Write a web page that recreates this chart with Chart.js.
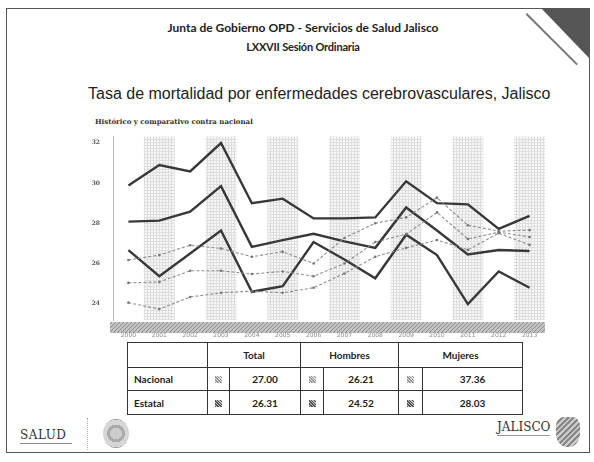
<!DOCTYPE html>
<html lang="es">
<head>
<meta charset="UTF-8">
<title>Tasa de mortalidad por enfermedades cerebrovasculares, Jalisco</title>
<script src="https://cdn.jsdelivr.net/npm/chart.js"></script>
<style>
    body { margin: 0; background: #fff; }
    .page { position: relative; width: 594px; height: 462px; overflow: hidden; background: #fff; font-family: Lato, "Open Sans", sans-serif; color: #222; }
    .marco { position: absolute; left: 6px; top: 8px; width: 582px; height: 443px; border: 1.5px solid #555; }
    .encabezado { position: absolute; left: 0; width: 606px; text-align: center; font-weight: bold; color: #222; }
    .titulo { position: absolute; left: 88px; top: 85px; font-family: "Liberation Sans", Arial, sans-serif; font-size: 16px; color: #222; }
    .subtitulo { position: absolute; left: 95px; top: 117px; font-family: "DejaVu Serif", serif; font-weight: bold; font-size: 7px; color: #333; }
    #grafica { position: absolute; left: 90px; top: 128px; }
    table { position: absolute; left: 127px; top: 342px; border-collapse: collapse; font-weight: bold; font-size: 10px; color: #222; }
    td { border: 1.3px solid #333; padding: 0; text-align: center; }
    td.etq { text-align: left; padding-left: 6px; }
    .ico { display: inline-block; width: 7px; height: 7px; background: repeating-linear-gradient(45deg, #555 0 1px, #bbb 1px 2px); }
    .ico.claro { background: repeating-linear-gradient(45deg, #999 0 1px, #ddd 1px 2px); }
    .triangulo { position: absolute; left: 541px; top: 8px; width: 0; height: 0; border-top: 50px solid #555; border-left: 48px solid transparent; }
    .diagonal { position: absolute; left: 527px; top: 13px; width: 72px; height: 1.5px; background: #777; transform-origin: 0 0; transform: rotate(45deg); }
    .salud { position: absolute; left: 20px; top: 428px; font-family: "DejaVu Serif", serif; font-size: 12px; color: #333; letter-spacing: 0.5px; }
    .salud small { display: block; font-size: 3px; border-top: 1px solid #888; margin-top: 1px; width: 52px; height: 4px; }
    .separador { position: absolute; left: 87px; top: 418px; height: 32px; border-left: 1px dotted #aaa; }
    .sello { position: absolute; left: 103px; top: 419px; width: 26px; height: 29px; border-radius: 50%; background: radial-gradient(circle, #ccc 0 30%, #aaa 31% 45%, #d6d6d6 46% 70%, #999 71% 100%); }
    .jalisco { position: absolute; left: 497px; top: 420px; font-family: "DejaVu Serif", serif; font-size: 12px; color: #333; }
    .jalisco small { display: block; font-size: 3px; height: 4px; border-top: 1px solid #999; margin-top: 1px; }
    .escudo { position: absolute; left: 556px; top: 417px; width: 24px; height: 30px; background: repeating-linear-gradient(135deg, #888 0 2px, #ccc 2px 4px); border-radius: 30% 30% 45% 45%; }
</style>
</head>
<body>
<div class="page">
    <div class="marco"></div>
    <div class="triangulo"></div>
    <div class="diagonal"></div>
    <div class="encabezado" style="top:20px; font-size:12px">Junta de Gobierno OPD - Servicios de Salud Jalisco</div>
    <div class="encabezado" style="top:40px; font-size:11px; letter-spacing:-0.2px">LXXVII Sesión Ordinaria</div>
    <div class="titulo">Tasa de mortalidad por enfermedades cerebrovasculares, Jalisco</div>
    <div class="subtitulo">Histórico y comparativo contra nacional</div>
    <canvas id="grafica" width="460" height="210"></canvas>
    <table id="resumen"></table>
    <div class="salud">SALUD<small></small></div>
    <div class="separador"></div>
    <div class="sello"></div>
    <div class="jalisco">JALISCO<small></small></div>
    <div class="escudo"></div>
</div>

<script>
    // Años de la serie
    const anios = ['2000', '2001', '2002', '2003', '2004', '2005', '2006', '2007', '2008', '2009', '2010', '2011', '2012', '2013'];

    // Tasas estatales (líneas continuas)
    const estatalMujeres = [29.87, 30.89, 30.57, 31.98, 28.99, 29.22, 28.24, 28.24, 28.29, 30.08, 29.0, 28.94, 27.72, 28.37];
    const estatalTotal = [28.08, 28.13, 28.57, 29.84, 26.83, 27.16, 27.48, 27.10, 26.78, 28.78, 27.64, 26.45, 26.67, 26.62];
    const estatalHombres = [26.67, 25.37, 26.50, 27.64, 24.60, 24.88, 27.07, 26.20, 25.27, 27.43, 26.42, 23.99, 25.61, 24.80];

    // Tasas nacionales (líneas punteadas)
    const nacionalMujeres = [26.18, 26.42, 26.91, 26.75, 26.34, 26.59, 26.0, 27.27, 28.0, 28.29, 29.27, 27.90, 27.61, 27.66];
    const nacionalTotal = [25.04, 25.09, 25.64, 25.64, 25.48, 25.61, 25.37, 26.0, 27.07, 27.46, 28.54, 27.22, 27.56, 27.32];
    const nacionalHombres = [24.06, 23.74, 24.34, 24.55, 24.63, 24.55, 24.80, 25.51, 26.34, 26.78, 27.17, 26.68, 27.51, 26.93];

    // Marcas del eje Y
    const marcasY = [24, 26, 28, 30, 32];

    // Tabla resumen
    const columnas = ['Total', 'Hombres', 'Mujeres'];
    const filas = ['Nacional', 'Estatal'];
    const valoresNacional = ['27.00', '26.21', '37.36'];
    const valoresEstatal = ['26.31', '24.52', '28.03'];

    // --- tabla ---
    const anchos = [80, 22, 71, 23, 75, 24, 100];
    let html = '<colgroup>' + anchos.map(a => '<col style="width:' + a + 'px">').join('') + '</colgroup>';
    html += '<tr style="height:25px"><td></td>' + columnas.map(c => '<td colspan="2">' + c + '</td>').join('') + '</tr>';
    [valoresNacional, valoresEstatal].forEach((vals, i) => {
        html += '<tr style="height:' + (i === 0 ? 23 : 24) + 'px"><td class="etq">' + filas[i] + '</td>';
        vals.forEach(v => {
            html += '<td><span class="ico' + (i === 0 ? ' claro' : '') + '"></span></td><td>' + v + '</td>';
        });
        html += '</tr>';
    });
    document.getElementById('resumen').innerHTML = html;

    // patrón punteado para las columnas sombreadas
    function patronPuntos() {
        const c = document.createElement('canvas');
        c.width = 3; c.height = 3;
        const g = c.getContext('2d');
        g.fillStyle = '#f6f6f6';
        g.fillRect(0, 0, 3, 3);
        g.fillStyle = '#dedede';
        g.fillRect(0, 0, 1, 3);
        g.fillRect(0, 2, 3, 1);
        return g.createPattern(c, 'repeat');
    }

    // patrón rayado de la franja inferior
    function patronRayas() {
        const c = document.createElement('canvas');
        c.width = 4; c.height = 4;
        const g = c.getContext('2d');
        g.fillStyle = '#c4c4c4';
        g.fillRect(0, 0, 4, 4);
        g.strokeStyle = '#8c8c8c';
        g.lineWidth = 1;
        g.beginPath();
        g.moveTo(0, 4); g.lineTo(4, 0);
        g.stroke();
        return g.createPattern(c, 'repeat');
    }

    const fondo = {
        id: 'fondo',
        beforeDatasetsDraw(chart) {
            const { ctx, chartArea, scales } = chart;
            const x = scales.x;
            const paso = x.getPixelForValue(1) - x.getPixelForValue(0);
            ctx.save();
            ctx.fillStyle = patronPuntos();
            for (let i = 1; i < anios.length; i += 2) {
                const cx = x.getPixelForValue(i);
                ctx.fillRect(cx - paso / 2, chartArea.top, paso, chartArea.bottom - chartArea.top);
            }
            ctx.restore();
        },
        beforeDraw(chart) {
            const { ctx, chartArea } = chart;
            ctx.save();
            ctx.fillStyle = patronRayas();
            ctx.fillRect(chartArea.left - 3, chartArea.bottom + 2, chartArea.right - chartArea.left + 3, 11);
            ctx.restore();
        }
    };

    function continua(datos) {
        return { data: datos, borderColor: '#383838', borderWidth: 2.4, pointRadius: 0, tension: 0 };
    }
    function punteada(datos) {
        return {
            data: datos, borderColor: '#8e8e8e', borderWidth: 1.1, borderDash: [3, 2],
            pointRadius: 1.3, pointBackgroundColor: '#777', pointBorderWidth: 0, tension: 0
        };
    }

    new Chart(document.getElementById('grafica').getContext('2d'), {
        type: 'line',
        data: {
            labels: anios,
            datasets: [
                punteada(nacionalHombres),
                punteada(nacionalTotal),
                punteada(nacionalMujeres),
                continua(estatalHombres),
                continua(estatalTotal),
                continua(estatalMujeres)
            ]
        },
        options: {
            responsive: false,
            animation: false,
            layout: { padding: { top: 5, right: 5, left: 0, bottom: 0 } },
            plugins: { legend: { display: false }, tooltip: { enabled: false } },
            scales: {
                x: {
                    offset: true,
                    grid: { display: false },
                    border: { display: false },
                    ticks: { color: '#8a8a8a', font: { size: 6, family: 'DejaVu Sans' }, padding: 4, maxRotation: 0 },
                    afterFit(s) { s.height = 18; }
                },
                y: {
                    min: 23.2,
                    max: 32.3,
                    grid: { display: false },
                    border: { display: true, color: '#bbb', dash: [1, 2], width: 1 },
                    afterBuildTicks(s) { s.ticks = marcasY.map(v => ({ value: v })); },
                    ticks: { color: '#555', font: { size: 6, family: 'DejaVu Serif', weight: 'bold' }, padding: 5 },
                    afterFit(s) { s.width = 23; }
                }
            }
        },
        plugins: [fondo]
    });
</script>
</body>
</html>
